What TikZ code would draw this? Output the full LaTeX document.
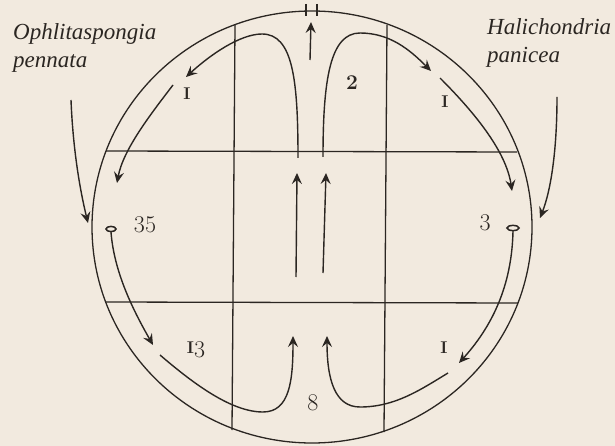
\documentclass[tikz,border=0pt]{standalone}
\usepackage{fontspec}
\newfontfamily\namefont{Liberation Serif}
\usetikzlibrary{arrows.meta}
\definecolor{paper}{HTML}{F2EADF}
\definecolor{ink}{HTML}{2B2622}
\newcommand{\smallone}{{\fontsize{17}{19}\selectfont\bfseries I}}
\tikzset{
  frame/.style={draw=ink, line width=1.3pt},
  flow/.style={draw=ink, line width=1.4pt, -{Stealth[length=11pt,width=10pt,inset=4pt]}},
  pore/.style={draw=ink, line width=1.5pt},
  species/.style={anchor=base west, text=ink, font=\namefont\itshape\fontsize{23}{25}\selectfont, inner sep=0pt},
  count/.style={text=ink, font=\fontsize{24}{26}\selectfont, inner sep=0pt},
  countb/.style={text=ink, font=\fontsize{21}{23}\selectfont\bfseries, inner sep=0pt},
  onelabel/.style={text=ink, inner sep=0pt},
  tick/.style={draw=ink, line width=1.3pt}
}
\begin{document}
\begin{tikzpicture}[x=1pt,y=-1pt]
\fill[paper] (0,0) rectangle (615,446);
\useasboundingbox (0,0) rectangle (615,446);
% vessel outline
\coordinate (c) at (312,227);
\draw[frame] (c) ellipse [x radius=220, y radius=216];
% grid lines
\coordinate (v1t) at (235,25); \coordinate (v1b) at (232,430);
\coordinate (v2t) at (387,25); \coordinate (v2b) at (384,432);
\coordinate (h1l) at (106,151); \coordinate (h1r) at (517,152);
\coordinate (h2l) at (106,302); \coordinate (h2r) at (518,303);
\draw[frame] (v1t) -- (v1b);
\draw[frame] (v2t) -- (v2b);
\draw[frame] (h1l) -- (h1r);
\draw[frame] (h2l) -- (h2r);
% outlet marks
\coordinate (t1a) at (306,4); \coordinate (t1b) at (306,16);
\coordinate (t2a) at (317,4); \coordinate (t2b) at (317,16);
\draw[tick] (t1a) -- (t1b);
\draw[tick] (t2a) -- (t2b);
% top arrow to outlet
\coordinate (ua) at (310,60); \coordinate (ub) at (311,22);
\draw[flow] (ua) -- (ub);
% central rising arrows
\coordinate (m1a) at (296,277); \coordinate (m1b) at (297,173);
\coordinate (m2a) at (323,273); \coordinate (m2b) at (326,173);
\draw[flow] (m1a) -- (m1b);
\draw[flow] (m2a) -- (m2b);
% top loops
\coordinate (l1s) at (298,158); \coordinate (l1e) at (186,77);
\draw[flow] (l1s) .. controls (298,80) and (293,34) .. (262,34) .. controls (240,34) and (210,55) .. (l1e);
\coordinate (l2s) at (323,157); \coordinate (l2e) at (431,71);
\draw[flow] (l2s) .. controls (323,80) and (330,33) .. (360,33) .. controls (390,33) and (410,50) .. (l2e);
% upper outer arrows
\coordinate (o1s) at (173,85); \coordinate (o1e) at (117,183);
\draw[flow] (o1s) .. controls (150,115) and (123,150) .. (o1e);
\coordinate (o2s) at (440,78); \coordinate (o2e) at (512,191);
\draw[flow] (o2s) .. controls (472,110) and (506,150) .. (o2e);
% pores
\coordinate (p1) at (111,229); \coordinate (p2) at (513,228);
\draw[pore] (p1) ellipse [x radius=5, y radius=2.6];
\draw[pore] (p2) ellipse [x radius=6, y radius=2.6];
% lower outer arrows
\coordinate (d1e) at (153,345);
\draw[flow] (111,232) .. controls (114,272) and (133,310) .. (d1e);
\coordinate (d2e) at (459,363);
\draw[flow] (513,231) .. controls (512,280) and (496,322) .. (d2e);
% bottom loops
\coordinate (b1s) at (160,355); \coordinate (b1e) at (293,336);
\draw[flow] (b1s) .. controls (195,385) and (232,412) .. (263,412) .. controls (290,412) and (293,380) .. (b1e);
\coordinate (b2s) at (448,373); \coordinate (b2e) at (327,336);
\draw[flow] (b2s) .. controls (420,390) and (395,407) .. (360,407) .. controls (335,407) and (327,380) .. (b2e);
% outside arrows
\coordinate (s1s) at (71,100); \coordinate (s1e) at (88,223);
\draw[flow] (s1s) .. controls (73,150) and (80,190) .. (s1e);
\coordinate (s2s) at (557,97); \coordinate (s2e) at (540,218);
\draw[flow] (s2s) .. controls (557,150) and (551,190) .. (s2e);
% species names
\node[species] (n1) at (13,40) {Ophlitaspongia};
\node[species] (n2) at (13,68) {pennata};
\node[species] (n3) at (487,35) {Halichondria};
\node[species] (n4) at (487,63) {panicea};
% counts
\node[onelabel] (k1) at (187,94) {\smallone};
\node[countb] (k2) at (352,83) {2};
\node[onelabel] (k3) at (445,102) {\smallone};
\node[count] (k4) at (145,225) {35};
\node[count] (k5) at (485,223) {3};
\node[count, anchor=base] (k6) at (196,357) {\raisebox{4pt}{\smallone}3};
\node[onelabel] (k7) at (444,348) {\smallone};
\node[count] (k8) at (313,403) {8};
\end{tikzpicture}
\end{document}
